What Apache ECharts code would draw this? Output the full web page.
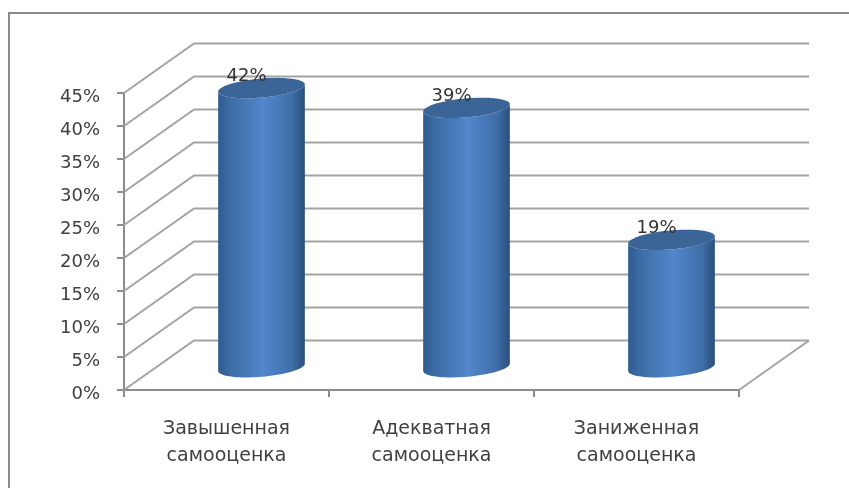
<!DOCTYPE html>
<html>
<head>
<meta charset="utf-8">
<style>html,body{margin:0;padding:0;background:#fff}#c{width:849px;height:488px}</style>
<script src="https://cdn.jsdelivr.net/npm/echarts@6/dist/echarts.min.js"></script>
</head>
<body>
<div id="c"></div>
<script>
var categories = ['Завышенная\nсамооценка', 'Адекватная\nсамооценка', 'Заниженная\nсамооценка'];
var values = [42, 39, 19];
var ticks = [0, 5, 10, 15, 20, 25, 30, 35, 40, 45];

var DEPTH_X = 70, DEPTH_Y = -49.5;
var RX = 43.5, RY = 9.5, TILT = -5 * Math.PI / 180, BASE_SHIFT = 2;
var FONT = '"DejaVu Sans", sans-serif';
var TEXT = '#404040', AXIS = '#8c8c8c', GRID = '#a3a3a3';

function ellipsePoint(cx, cy, t) {
  var x = RX * Math.cos(t), y = RY * Math.sin(t);
  return [cx + x * Math.cos(TILT) - y * Math.sin(TILT),
          cy + x * Math.sin(TILT) + y * Math.cos(TILT)];
}
function arc(cx, cy, from, to, n) {
  var pts = [];
  for (var i = 0; i <= n; i++) pts.push(ellipsePoint(cx, cy, from + (to - from) * i / n));
  return pts;
}

function renderGrid(params, api) {
  var v = api.value(0);
  var cs = params.coordSys;
  var y = api.coord([0, v])[1];
  var left = cs.x, right = cs.x + cs.width;
  var ls = {stroke: GRID, lineWidth: 2};
  var children = [
    {type: 'polyline', shape: {points: [[left, y], [left + DEPTH_X, y + DEPTH_Y], [right + DEPTH_X, y + DEPTH_Y]]}, style: {stroke: GRID, lineWidth: 2, fill: null}}
  ];
  if (v === 0) {
    children.push({type: 'line', shape: {x1: right, y1: y, x2: right + DEPTH_X, y2: y + DEPTH_Y}, style: ls});
  }
  return {type: 'group', children: children};
}

function renderCylinder(params, api) {
  var p = api.coord([api.value(0), api.value(1)]);
  var p0 = api.coord([api.value(0), 0]);
  var cx = p[0] + DEPTH_X / 2;
  var topY = p[1] + DEPTH_Y / 2;
  var botY = p0[1] + DEPTH_Y / 2 + BASE_SHIFT;
  var body = arc(cx, topY, Math.PI, 0, 40).concat(arc(cx, botY, 0, Math.PI, 40));
  return {
    type: 'group',
    children: [
      {type: 'polygon', shape: {points: body}, style: {fill: {
        type: 'linear', x: 0, y: 0, x2: 1, y2: 0,
        colorStops: [
          {offset: 0, color: '#2f5b8e'},
          {offset: 0.12, color: '#3b6ba3'},
          {offset: 0.52, color: '#5287cb'},
          {offset: 0.85, color: '#3f6ea8'},
          {offset: 1, color: '#2a4f7c'}
        ]}}},
      {type: 'polygon', shape: {points: arc(cx, topY, 0, Math.PI * 2, 80)}, style: {fill: '#3a6596'}},
      {type: 'text', x: cx - 15, y: topY - 11.5, style: {
        text: api.value(1) + '%', fill: '#333333', font: '18px ' + FONT, align: 'center', verticalAlign: 'middle'}}
    ]
  };
}

var chart = echarts.init(document.getElementById('c'), null, {renderer: 'canvas'});
chart.setOption({
  animation: false,
  backgroundColor: '#ffffff',
  graphic: [
    {type: 'polyline', silent: true, z: 0, shape: {points: [[9, 488], [9, 13], [849, 13]]}, style: {stroke: '#8a8a8a', lineWidth: 2, fill: null}}
  ],
  grid: {left: 124, top: 93, width: 615, height: 297},
  xAxis: {
    type: 'category', data: categories,
    axisLine: {show: true, lineStyle: {color: AXIS, width: 2}},
    axisTick: {show: true, length: 7, alignWithLabel: false, lineStyle: {color: AXIS, width: 2}},
    axisLabel: {color: TEXT, fontFamily: FONT, fontSize: 19, lineHeight: 27, margin: 26, interval: 0}
  },
  yAxis: {
    type: 'value', min: 0, max: 45, interval: 5,
    splitLine: {show: false},
    axisLine: {show: true, lineStyle: {color: AXIS, width: 2}},
    axisTick: {show: true, length: 7, lineStyle: {color: AXIS, width: 2}},
    axisLabel: {color: TEXT, fontFamily: FONT, fontSize: 18, margin: 24, verticalAlign: 'top', lineHeight: 9,
      formatter: function (v) { return v + '%'; }}
  },
  series: [
    {type: 'custom', name: 'grid', silent: true, z: 1, clip: false, renderItem: renderGrid,
      data: ticks.map(function (t) { return [t]; }), encode: {y: 0}},
    {type: 'custom', name: 'Самооценка', silent: true, z: 3, clip: false, renderItem: renderCylinder,
      data: values.map(function (v, i) { return [i, v]; }), encode: {x: 0, y: 1}}
  ]
});
</script>
</body>
</html>
